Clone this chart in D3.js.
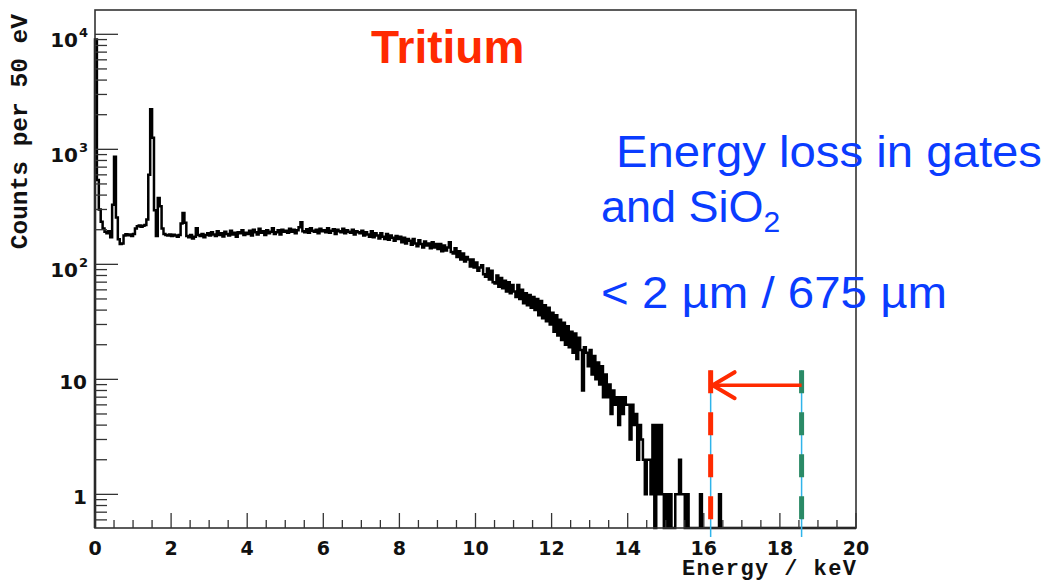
<!DOCTYPE html>
<html>
<head>
<meta charset="utf-8">
<script src="https://cdn.jsdelivr.net/npm/d3@7"></script>
<style>
  html, body { margin: 0; padding: 0; background: #fff; }
  svg { display: block; }
</style>
</head>
<body>
<svg id="chart" width="1049" height="582"></svg>
<script>
// ---------------- data ----------------
const binWidthKeV = 0.05;           // 50 eV bins, 0 .. 20 keV
const counts = [
  9000, 540, 300, 235, 205, 192, 186, 194, 172, 330, 860, 255, 165, 150, 152, 178, 183, 179, 182, 176,
  184, 205, 214, 218, 212, 216, 220, 245, 600, 2230, 1260, 295, 176, 377, 320, 205, 184, 180, 178, 182,
  176, 181, 178, 174, 180, 226, 280, 230, 176, 172, 180, 168, 174, 206, 180, 176, 184, 172, 180, 186,
  178, 190, 182, 176, 194, 180, 186, 175, 192, 184, 178, 196, 182, 188, 174, 190, 186, 198, 180, 188,
  184, 196, 178, 200, 190, 182, 204, 188, 194, 180, 198, 186, 192, 206, 184, 190, 198, 182, 200, 192,
  196, 188, 204, 192, 200, 186, 198, 210, 232, 194, 190, 202, 188, 206, 196, 192, 200, 186, 204, 194,
  198, 190, 206, 188, 196, 202, 184, 200, 194, 190, 204, 186, 198, 192, 188, 200, 182, 194, 190, 186,
  196, 178, 190, 182, 174, 194, 172, 186, 178, 168, 186, 174, 166, 184, 164, 178, 170, 160, 176, 166,
  174, 156, 170, 152, 166, 160, 148, 166, 152, 144, 162, 150, 140, 158, 146, 152, 138, 156, 140, 150,
  136, 150, 130, 146, 132, 140, 156, 128, 124, 138, 116, 130, 110, 124, 106, 116, 110, 96, 110, 94,
  104, 88, 94, 98, 82, 78, 92, 74, 88, 70, 68, 80, 64, 76, 62, 72, 58, 70, 56, 66,
  58, 52, 66, 50, 60, 46, 56, 44, 54, 42, 52, 40, 50, 36, 48, 34, 44, 32, 42, 30,
  38, 26, 36, 24, 33, 22, 31, 20, 29, 19, 26, 17, 25, 15, 23, 18, 8, 19, 17, 13,
  18, 11, 16, 10, 14, 9, 13, 7, 11, 7, 9, 5, 8, 6, 7, 4, 7, 5, 7, 6,
  6, 3, 6, 4, 5, 2, 4, 3, 2, 1, 2, 2, 1, 4, 0, 4, 1, 4, 1, 0,
  1, 0, 1, 0, 0, 1, 1, 2, 1, 1, 0, 1, 0, 0, 0, 0, 0, 0, 1, 0,
  0, 0, 0, 0, 0, 0, 0, 0, 1, 0, 0, 0, 0, 0, 0, 0, 0, 0, 0, 0,
  0, 0, 0, 0, 0, 0, 0, 0, 0, 0, 0, 0, 0, 0, 0, 0, 0, 0, 0, 0,
  0, 0, 0, 0, 0, 0, 0, 0, 0, 0, 0, 0, 0, 0, 0, 0, 0, 0, 0, 0,
  0, 0, 0, 0, 0, 0, 0, 0, 0, 0, 0, 0, 0, 0, 0, 0, 0, 0, 0, 0
];
const xMajorTicks = [0, 2, 4, 6, 8, 10, 12, 14, 16, 18, 20];
const xMinorStep = 0.5;
const yMajorTicks = [1, 10, 100, 1000, 10000];
const yMajorBase = ["1", "10", "10", "10", "10"];
const yMajorExp  = ["", "", "2", "3", "4"];
const xTitle = "Energy / keV";
const yTitle = "Counts per 50 eV";
const titleText = "Tritium";
const noteLines = ["Energy loss in gates", "and SiO", "< 2 µm / 675 µm"];
const noteSub = "2";
const endpointKeV = 18.57;   // tritium endpoint (green)
const shiftedKeV = 16.18;    // after energy loss (red)
const arrowCount = 8.9;
const markerTopCount = 12;
const markerBottomCount = 0.6;

// ---------------- scales ----------------
const svg = d3.select("#chart");
const x = d3.scaleLinear().domain([0, 20]).range([95, 856]);
const yMin = 0.51, yMax = 16270;
const y = d3.scaleLog().domain([yMin, yMax]).range([528, 10]).clamp(true);
const X0 = x.range()[0], X1 = x.range()[1];
const Y0 = y.range()[0], Y1 = y.range()[1];

// ---------------- histogram ----------------
const pts = [[0, yMin]];
counts.forEach((v, i) => pts.push([i * binWidthKeV, v > 0 ? v : yMin]));
pts.push([counts.length * binWidthKeV, counts[counts.length - 1] > 0 ? counts[counts.length - 1] : yMin]);
const line = d3.line().x(d => x(d[0])).y(d => y(d[1])).curve(d3.curveStepAfter);
svg.append("path")
  .attr("d", line(pts))
  .attr("fill", "none")
  .attr("stroke", "#000")
  .attr("stroke-width", 2.5)
  .attr("stroke-linejoin", "miter");

// ---------------- frame ----------------
svg.append("rect")
  .attr("x", X0).attr("y", Y1)
  .attr("width", X1 - X0).attr("height", Y0 - Y1)
  .attr("fill", "none").attr("stroke", "#333").attr("stroke-width", 1.6);

// ---------------- x ticks ----------------
const gx = svg.append("g").attr("stroke", "#333").attr("stroke-width", 1.3);
d3.range(0, 20 + 1e-9, xMinorStep).forEach(v => {
  const major = xMajorTicks.some(t => Math.abs(t - v) < 1e-9);
  gx.append("line")
    .attr("x1", x(v)).attr("x2", x(v))
    .attr("y1", Y0).attr("y2", Y0 - (major ? 15 : 8));
});
svg.append("g").selectAll("text").data(xMajorTicks).join("text")
  .attr("x", d => x(d)).attr("y", Y0 + 27)
  .attr("text-anchor", "middle")
  .attr("font-family", "DejaVu Sans, sans-serif")
  .attr("font-weight", "bold").attr("font-size", 19)
  .attr("fill", "#111")
  .text(d => d);

// ---------------- y ticks ----------------
const gy = svg.append("g").attr("stroke", "#333").attr("stroke-width", 1.3);
y.ticks().forEach(v => {
  const major = Math.abs(Math.log10(v) - Math.round(Math.log10(v))) < 1e-9;
  gy.append("line")
    .attr("x1", X0).attr("x2", X0 + (major ? 23 : 12))
    .attr("y1", y(v)).attr("y2", y(v));
});
const yl = svg.append("g")
  .attr("font-family", "DejaVu Sans, sans-serif")
  .attr("font-weight", "bold").attr("fill", "#111");
yMajorTicks.forEach((v, i) => {
  yl.append("text")
    .attr("x", yMajorExp[i] ? 78 : 87)
    .attr("y", y(v) + (yMajorExp[i] ? 13 : 10))
    .attr("text-anchor", "end")
    .attr("font-size", 20)
    .text(yMajorBase[i]);
  if (yMajorExp[i]) {
    yl.append("text")
      .attr("x", 79).attr("y", y(v) + 3)
      .attr("font-size", 13)
      .text(yMajorExp[i]);
  }
});

// ---------------- axis titles ----------------
svg.append("text")
  .attr("x", X1).attr("y", 575)
  .attr("text-anchor", "end")
  .attr("font-family", "Liberation Mono, monospace")
  .attr("font-weight", "bold").attr("font-size", 22)
  .attr("textLength", 174).attr("lengthAdjust", "spacing")
  .attr("fill", "#111")
  .text(xTitle);
svg.append("text")
  .attr("transform", "translate(27,14) rotate(-90)")
  .attr("text-anchor", "end")
  .attr("font-family", "Liberation Mono, monospace")
  .attr("font-weight", "bold").attr("font-size", 24.5)
  .attr("fill", "#111")
  .text(yTitle);

// ---------------- title ----------------
svg.append("text")
  .attr("x", 371).attr("y", 63)
  .attr("font-family", "Liberation Sans, Arial, sans-serif")
  .attr("font-weight", "bold").attr("font-size", 46)
  .attr("fill", "#ff2a00")
  .text(titleText);

// ---------------- endpoint markers ----------------
const mTop = y(markerTopCount), mBot = y(markerBottomCount);
[shiftedKeV, endpointKeV].forEach(e => {
  svg.append("line")
    .attr("x1", x(e)).attr("x2", x(e))
    .attr("y1", mTop).attr("y2", Y0 + 9)
    .attr("stroke", "#2fb4ea").attr("stroke-width", 1.5);
});
svg.append("line")
  .attr("x1", x(shiftedKeV)).attr("x2", x(shiftedKeV))
  .attr("y1", mTop).attr("y2", mBot)
  .attr("stroke", "#ff2a00").attr("stroke-width", 5)
  .attr("stroke-dasharray", "23 19");
svg.append("line")
  .attr("x1", x(endpointKeV)).attr("x2", x(endpointKeV))
  .attr("y1", mTop).attr("y2", mBot)
  .attr("stroke", "#2a8a66").attr("stroke-width", 5)
  .attr("stroke-dasharray", "23 19");
const ay = y(arrowCount), ax0 = x(endpointKeV), ax1 = x(shiftedKeV) + 2;
svg.append("line")
  .attr("x1", ax0).attr("x2", ax1).attr("y1", ay).attr("y2", ay)
  .attr("stroke", "#ff2a00").attr("stroke-width", 3.5);
svg.append("path")
  .attr("d", `M${ax1 + 22},${ay - 13} L${ax1},${ay} L${ax1 + 22},${ay + 13}`)
  .attr("fill", "none").attr("stroke", "#ff2a00")
  .attr("stroke-width", 4).attr("stroke-linecap", "round").attr("stroke-linejoin", "round");

// ---------------- note text ----------------
const note = svg.append("g")
  .attr("font-family", "Liberation Sans, Arial, sans-serif")
  .attr("font-size", 45).attr("fill", "#0a3cff");
note.append("text").attr("x", 616).attr("y", 167)
  .attr("textLength", 426).attr("lengthAdjust", "spacingAndGlyphs")
  .text(noteLines[0]);
const l2 = note.append("text").attr("x", 601).attr("y", 222);
l2.append("tspan").text(noteLines[1]);
l2.append("tspan").attr("font-size", 30).attr("dy", 10).text(noteSub);
note.append("text").attr("x", 601).attr("y", 308)
  .attr("textLength", 346).attr("lengthAdjust", "spacingAndGlyphs")
  .text(noteLines[2]);
</script>
</body>
</html>
